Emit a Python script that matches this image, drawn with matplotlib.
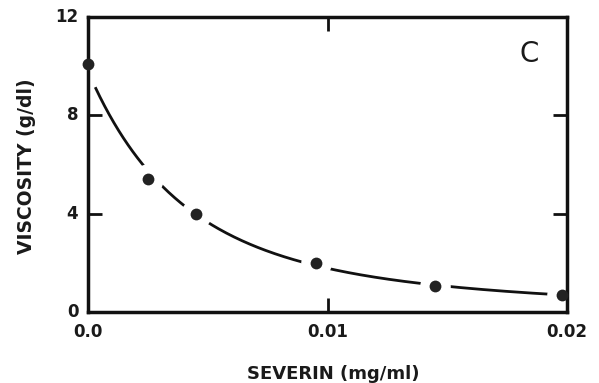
import numpy as np
import matplotlib
matplotlib.use("Agg")
import matplotlib.pyplot as plt

# Data
severin = [0.0, 0.0025, 0.0045, 0.0095, 0.0145, 0.0198]
viscosity = [10.1, 5.4, 4.0, 2.0, 1.05, 0.7]
x_ticks = [0.0, 0.01, 0.02]
x_ticklabels = ["0.0", "0.01", "0.02"]
y_ticks = [0, 4, 8, 12]
y_ticklabels = ["0", "4", "8", "12"]

fig = plt.figure(figsize=(5.99, 3.83), dpi=100)
ax = fig.add_axes([0.147, 0.1854, 0.7996, 0.7702])

# smooth fitted curve (log-space polynomial fit)
coef = np.polyfit(severin, np.log(viscosity), 3)
xs = np.linspace(severin[0] + 0.0003, severin[-1], 300)
ax.plot(xs, np.exp(np.polyval(coef, xs)), color="#111111", lw=2.0, solid_capstyle="butt", zorder=2)
# gaps around the points
ax.plot(severin, viscosity, "o", color="white", ms=22, mec="none", zorder=3, clip_on=False)
ax.plot(severin, viscosity, "o", color="#222222", ms=8.5, mec="none", zorder=6, clip_on=False)

ax.set_xlim(0, 0.02)
ax.set_ylim(0, 12)
ax.set_xticks([0.01])
ax.set_yticks([4, 8])
ax.tick_params(direction="in", length=10, width=2, top=True, right=True,
               labelbottom=False, labelleft=False, color="#111111")
for s in ax.spines.values():
    s.set_linewidth(2.5)
    s.set_color("#111111")
    s.set_zorder(5)

tfont = dict(fontsize=12, fontweight="bold", color="#1a1a1a", family="DejaVu Sans")
for v, lab in zip(x_ticks, x_ticklabels):
    ax.annotate(lab, xy=(v, 0), xycoords="data", xytext=(0, -8), textcoords="offset points",
                ha="center", va="top", **tfont)
for v, lab in zip(y_ticks, y_ticklabels):
    ax.annotate(lab, xy=(0, v), xycoords="data", xytext=(-7, 0), textcoords="offset points",
                ha="right", va="center", **tfont)

ax.text(0.922, 0.875, "C", transform=ax.transAxes, fontsize=20, color="#1a1a1a",
        ha="center", va="center")

fig.text(333 / 599, 1 - 374 / 383, "SEVERIN (mg/ml)", ha="center", va="center",
         fontsize=13, fontweight="bold", color="#1a1a1a")
fig.text(27 / 599, 1 - 166 / 383, "VISCOSITY (g/dl)", ha="center", va="center",
         rotation=90, fontsize=13.5, fontweight="bold", color="#1a1a1a")

fig.savefig("out.png", dpi=100, facecolor="white")
